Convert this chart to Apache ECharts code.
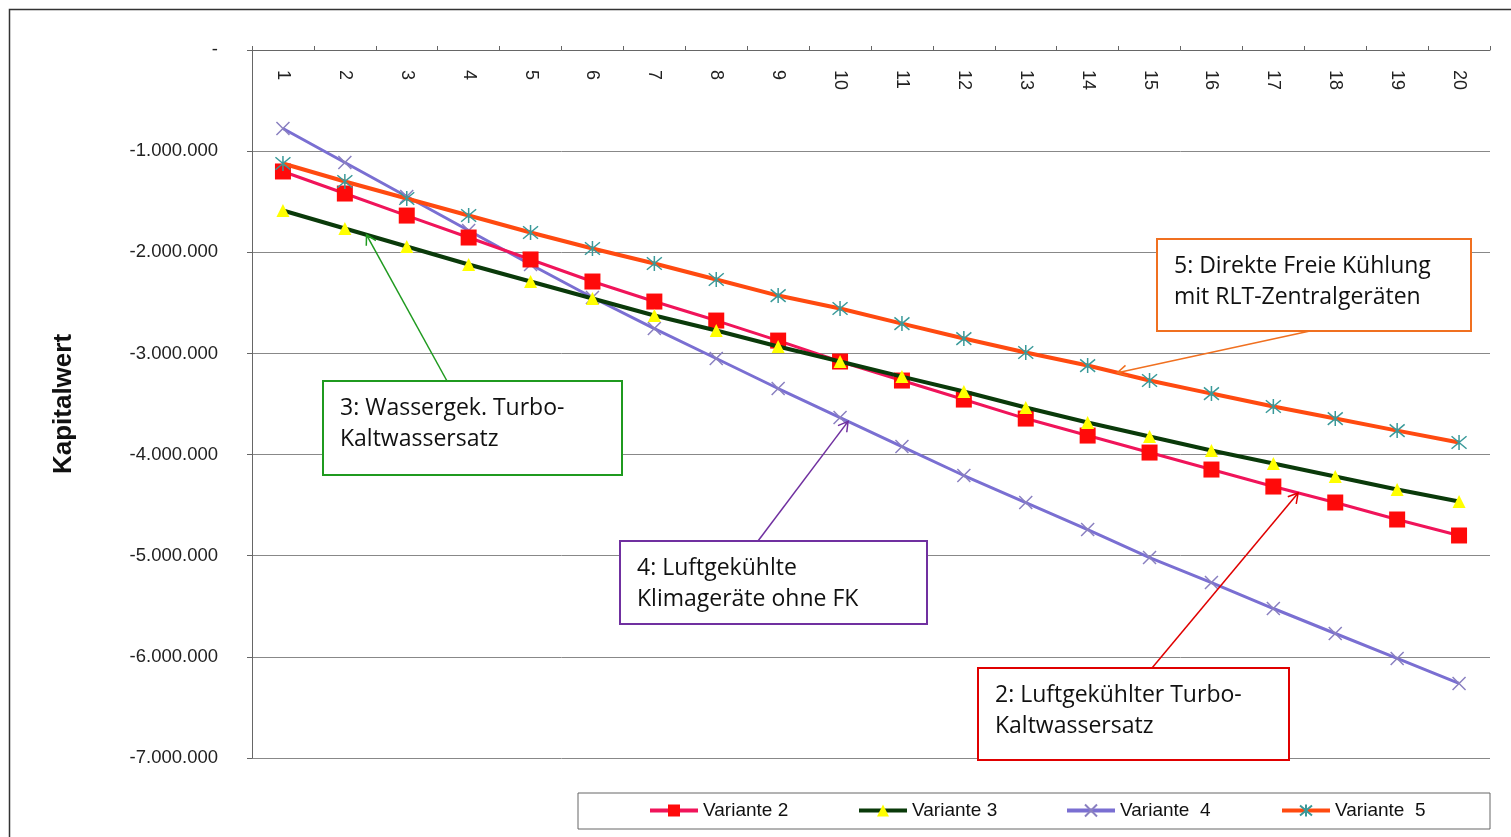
<!DOCTYPE html>
<html><head><meta charset="utf-8">
<script src="https://cdn.jsdelivr.net/npm/echarts@6/dist/echarts.min.js"></script>
<style>html,body{margin:0;padding:0;background:#fff}#c{width:1511px;height:837px}</style>
</head><body><div id="c"></div>
<script>
const categories = ['1','2','3','4','5','6','7','8','9','10','11','12','13','14','15','16','17','18','19','20'];
const variante2 = [-1201000,-1419000,-1637000,-1854000,-2071000,-2289000,-2487000,-2675000,-2873000,-3080000,-3268000,-3456000,-3644000,-3812000,-3980000,-4148000,-4316000,-4474000,-4642000,-4800000];
const variante3 = [-1587000,-1765000,-1943000,-2121000,-2289000,-2457000,-2625000,-2773000,-2932000,-3080000,-3229000,-3377000,-3535000,-3683000,-3822000,-3960000,-4089000,-4217000,-4346000,-4464000];
const variante4 = [-776000,-1112000,-1449000,-1785000,-2121000,-2447000,-2754000,-3050000,-3347000,-3634000,-3921000,-4207000,-4474000,-4741000,-5018000,-5265000,-5522000,-5769000,-6016000,-6263000];
const variante5 = [-1122000,-1300000,-1468000,-1636000,-1804000,-1963000,-2111000,-2269000,-2428000,-2556000,-2705000,-2853000,-2991000,-3120000,-3268000,-3397000,-3525000,-3644000,-3763000,-3881000];
const seriesNames = ['Variante 2','Variante 3','Variante  4','Variante  5'];
const yMin = -7000000, yMax = 0, yStep = 1000000;
const yTitle = 'Kapitalwert';
const notes = [
  {text:'3: Wassergek. Turbo-\nKaltwassersatz', color:'#1f9a1f'},
  {text:'4: Luftgekühlte\nKlimageräte ohne FK', color:'#7030a0'},
  {text:'5: Direkte Freie Kühlung\nmit RLT-Zentralgeräten', color:'#f07020'},
  {text:'2: Luftgekühlter Turbo-\nKaltwassersatz', color:'#e00000'}
];

function fmt(v){
  if (v === 0) return '-';
  const s = Math.abs(v).toString().replace(/\B(?=(\d{3})+(?!\d))/g,'.');
  return (v < 0 ? '-' : '') + s;
}

const chart = echarts.init(document.getElementById('c'));
const legendText = {fontSize:19, fontFamily:'Arial', color:'#111'};
const legendBase = {top:801, itemWidth:48, itemHeight:15, itemGap:0, textStyle:legendText, padding:0, lineStyle:{width:4}};
const X_PATH = 'path://M0,0L10,10M10,0L0,10';
const AST_PATH = 'path://M0,0L10,10M10,0L0,10M5,-1L5,11';

chart.setOption({
  animation:false,
  backgroundColor:'#fff',
  grid:{left:252, right:21, top:50, bottom:79},
  legend:[
    Object.assign({data:[seriesNames[0]], left:648}, legendBase),
    Object.assign({data:[seriesNames[1]], left:857}, legendBase),
    Object.assign({data:[seriesNames[2]], left:1065}, legendBase),
    Object.assign({data:[seriesNames[3]], left:1280}, legendBase)
  ],
  xAxis:{
    type:'category', position:'top', data:categories, boundaryGap:true,
    axisLine:{lineStyle:{color:'#666', width:1}},
    axisTick:{show:true, length:4, lineStyle:{color:'#666'}},
    axisLabel:{inside:true, rotate:-90, fontSize:18, fontFamily:'Arial', color:'#222', margin:20}
  },
  yAxis:{
    type:'value', min:yMin, max:yMax, interval:yStep,
    name:yTitle, nameLocation:'middle', nameGap:175,
    nameTextStyle:{fontSize:26, fontWeight:'bold', fontFamily:'Arial', color:'#111'},
    axisLine:{show:true, lineStyle:{color:'#666'}},
    axisTick:{show:true, length:5, lineStyle:{color:'#666'}},
    axisLabel:{formatter:fmt, fontSize:18.5, fontFamily:'Arial', color:'#222', margin:34},
    splitLine:{lineStyle:{color:'#888', width:1}}
  },
  series:[
    {name:seriesNames[0], type:'line', data:variante2, symbol:'rect', symbolSize:16, z:3,
     lineStyle:{color:'#f0145a', width:3}, itemStyle:{color:'#ff0a0a'}},
    {name:seriesNames[1], type:'line', data:variante3, symbol:'triangle', symbolSize:13, z:4,
     lineStyle:{color:'#0a3a0a', width:4}, itemStyle:{color:'#ffff00'}},
    {name:seriesNames[2], type:'line', data:variante4, symbol:X_PATH, symbolSize:13, z:2,
     lineStyle:{color:'#7a6fd2', width:3}, itemStyle:{color:'rgba(0,0,0,0)', borderColor:'#8a80c0', borderWidth:1.5}},
    {name:seriesNames[3], type:'line', data:variante5, symbol:AST_PATH, symbolSize:15, z:5,
     lineStyle:{color:'#ff4a10', width:4}, itemStyle:{color:'rgba(0,0,0,0)', borderColor:'#3a9a9a', borderWidth:1.5}}
  ]
});

function pt(data, i, t){
  const a = chart.convertToPixel({xAxisIndex:0, yAxisIndex:0}, [i, data[i]]);
  const b = chart.convertToPixel({xAxisIndex:0, yAxisIndex:0}, [i+1, data[i+1]]);
  return [a[0] + (b[0]-a[0])*t, a[1] + (b[1]-a[1])*t];
}
function arrow(from, to, color){
  const dx = to[0]-from[0], dy = to[1]-from[1];
  const L = Math.sqrt(dx*dx+dy*dy), ux = dx/L, uy = dy/L;
  const h = 11, ang = Math.PI/6;
  const c = Math.cos(ang), s = Math.sin(ang);
  const l1 = [to[0] - h*(ux*c - uy*s), to[1] - h*(uy*c + ux*s)];
  const l2 = [to[0] - h*(ux*c + uy*s), to[1] - h*(uy*c - ux*s)];
  return [
    {type:'line', z:20, shape:{x1:from[0], y1:from[1], x2:to[0], y2:to[1]}, style:{stroke:color, lineWidth:1.5}},
    {type:'polyline', z:20, shape:{points:[l1, to, l2]}, style:{stroke:color, lineWidth:1.5, fill:null}}
  ];
}
function box(x, y, w, h, note){
  return [
    {type:'rect', z:30, shape:{x:x, y:y, width:w, height:h}, style:{fill:'#fff', stroke:note.color, lineWidth:2}},
    {type:'text', z:31, x:x+17, y:y+12, style:{text:note.text, font:'23px "Open Sans", Lato, sans-serif', fill:'#111', lineHeight:31}}
  ];
}

let g = [
  {type:'rect', z:0, shape:{x:9.5, y:9.5, width:1520, height:840}, style:{fill:null, stroke:'#333', lineWidth:1.5}},
  {type:'rect', z:10, shape:{x:578, y:793, width:912, height:36}, style:{fill:null, stroke:'#666', lineWidth:1}}
];
g = g.concat(arrow([447,381], pt(variante3, 1, 0.35), '#1f9a1f'));
g = g.concat(arrow([758,541], pt(variante4, 9, 0.13), '#7030a0'));
g = g.concat(arrow([1310,331], pt(variante5, 13, 0.48), '#f07020'));
g = g.concat(arrow([1152,668], pt(variante2, 16, 0.4), '#e00000'));
g = g.concat(box(323, 381, 299, 94, notes[0]));
g = g.concat(box(620, 541, 307, 83, notes[1]));
g = g.concat(box(1157, 239, 314, 92, notes[2]));
g = g.concat(box(978, 668, 311, 92, notes[3]));
chart.setOption({graphic:{elements:g}});
</script></body></html>
